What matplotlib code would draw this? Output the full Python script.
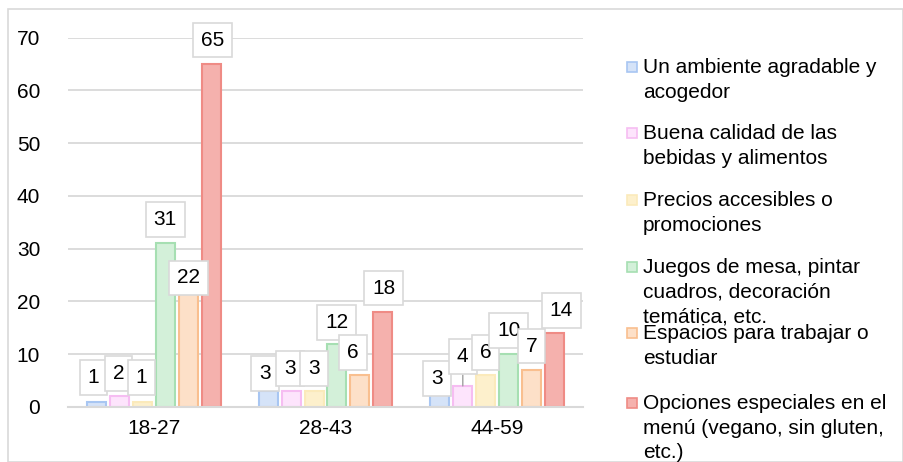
import numpy as np
import matplotlib
matplotlib.use("Agg")
import matplotlib.pyplot as plt
from matplotlib.patches import Rectangle

plt.rcParams["font.family"] = ["Liberation Sans", "DejaVu Sans"]

# data
age_groups = ["18-27", "28-43", "44-59"]
series_names = [
    "Un ambiente agradable y\nacogedor",
    "Buena calidad de las\nbebidas y alimentos",
    "Precios accesibles o\npromociones",
    "Juegos de mesa, pintar\ncuadros, decoración\ntemática, etc.",
    "Espacios para trabajar o\nestudiar",
    "Opciones especiales en el\nmenú (vegano, sin gluten,\netc.)",
]
ambiente = [1, 3, 3]
calidad = [2, 3, 4]
precios = [1, 3, 6]
juegos = [31, 12, 10]
espacios = [22, 6, 7]
opciones = [65, 18, 14]
y_ticks = [0, 10, 20, 30, 40, 50, 60, 70]

series = [ambiente, calidad, precios, juegos, espacios, opciones]
fills = ["#d5e3f8", "#fde4fc", "#fdf0cc", "#d3f0d9", "#fde0c8", "#f5b1ad"]
edges = ["#a8c6f2", "#f6bdf2", "#fbeabb", "#a6dfb2", "#f9bf8f", "#ef8b85"]

# label nudges in pixels (dx, dy) per series, per group
nudges = [
    [(-3, -24), (-3, -18), (-3, -13)],
    [(-1, -23), (-1, -23), (0, -29)],
    [(-1, -24), (0, -23), (0, -23)],
    [(0, -24), (0, -21), (0, -24)],
    [(0, -13), (-7, -23), (0, -24)],
    [(1, -24), (1, -24), (7, -23)],
]

W, H = 904, 462
fig = plt.figure(figsize=(W / 100, H / 100), dpi=100)
ax = fig.add_axes([68 / W, 1 - 407 / H, (583 - 68) / W, (407 - 37.7) / H])

x = np.arange(len(age_groups))
step = 0.1335
width = 0.111
fs = 15

for i, vals in enumerate(series):
    pos = x + (i - 2.5) * step
    ax.bar(pos, vals, width=width, color=fills[i], edgecolor=edges[i], linewidth=1.5, zorder=3)
    for j, v in enumerate(vals):
        dx, dy = nudges[i][j]
        kw = {}
        if i == 1 and j == 2:
            kw["arrowprops"] = dict(arrowstyle="-", color="#a0a0a0", lw=1, shrinkA=0, shrinkB=0)
        ax.annotate(str(v), xy=(pos[j], v), xytext=(dx, -dy), textcoords="offset pixels",
                    ha="center", va="center", fontsize=fs, zorder=5,
                    bbox=dict(boxstyle="square,pad=0.38", fc="white", ec="#d9d9d9", lw=1.2),
                    **kw)

ax.set_xlim(-0.5, 2.5)
ax.set_ylim(0, 70)
ax.set_yticks(y_ticks)
ax.set_xticks(x)
ax.set_xticklabels(age_groups)
ax.tick_params(axis="both", length=0, labelsize=fs)
ax.tick_params(axis="y", pad=20)
ax.tick_params(axis="x", pad=9)
ax.yaxis.grid(True, color="#d9d9d9", lw=1.3, zorder=0)
for s in ["top", "right", "left"]:
    ax.spines[s].set_visible(False)
ax.spines["bottom"].set_color("#d9d9d9")
ax.spines["bottom"].set_linewidth(1.5)
ax.spines["bottom"].set_zorder(4)

# legend drawn by hand to follow the reference layout
legend_y = [67, 133, 200, 267, 333, 403]
for i, name in enumerate(series_names):
    yc = legend_y[i]
    fig.patches.append(Rectangle((627 / W, 1 - (yc + 5) / H), 10 / W, 10 / H,
                                 transform=fig.transFigure, fc=fills[i], ec=edges[i], lw=1.2))
    fig.text(643 / W, 1 - (yc - 9) / H, name, fontsize=fs, va="top", ha="left",
             linespacing=1.38)

# chart border
fig.patches.append(Rectangle((8 / W, 0.5 / H), (W - 9) / W, (H - 9) / H,
                             transform=fig.transFigure, fill=False, ec="#d9d9d9", lw=1.2))

fig.savefig("out.png", dpi=100)
